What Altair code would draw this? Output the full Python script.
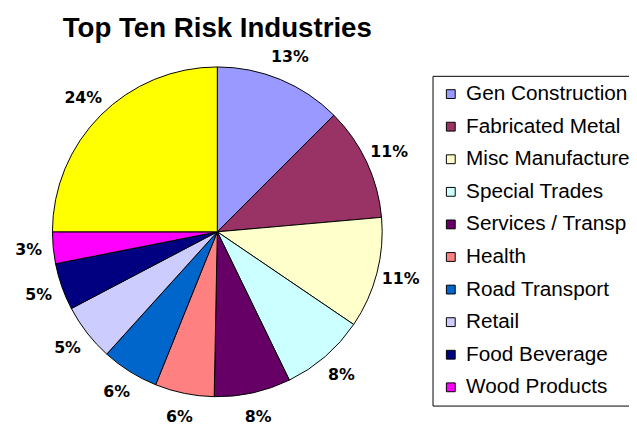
import altair as alt
import pandas as pd

industries = ["Gen Construction", "Fabricated Metal", "Misc Manufacture", "Special Trades",
              "Services / Transp", "Health", "Road Transport", "Retail", "Food Beverage",
              "Wood Products", "Other"]
shares = [12.5, 11.1, 10.9, 8.3, 7.5, 5.8, 5.6, 5.6, 4.6, 3.1, 25.0]
pct_labels = ["13%", "11%", "11%", "8%", "8%", "6%", "6%", "5%", "5%", "3%", "24%"]
colors = ["#9999FF", "#993366", "#FFFFCC", "#CCFFFF", "#660066", "#FF8080",
          "#0066CC", "#CCCCFF", "#000080", "#FF00FF", "#FFFF00"]
legend_names = industries[:10]

df = pd.DataFrame({
    "industry": industries,
    "share": shares,
    "label": pct_labels,
    "rank": list(range(len(industries))),
})

base = alt.Chart(df).encode(
    theta=alt.Theta("share:Q", stack=True),
    order=alt.Order("rank:Q"),
)

pie = base.mark_arc(outerRadius=167, stroke="black", strokeWidth=1).encode(
    color=alt.Color(
        "industry:N",
        scale=alt.Scale(domain=industries, range=colors),
        legend=alt.Legend(
            values=legend_names,
            orient="none",
            legendX=430,
            legendY=26,
            title=None,
            strokeColor="black",
            fillColor="white",
            padding=8,
            symbolType="square",
            symbolSize=80,
            symbolStrokeColor="black",
            symbolStrokeWidth=1,
            symbolOpacity=1,
            labelFont="Liberation Sans",
            labelFontSize=21,
            labelColor="black",
            labelLimit=500,
            labelOffset=5,
            rowPadding=11,
        ),
    )
)

text = base.mark_text(
    radius=192, font="DejaVu Sans", fontWeight="bold", fontSize=16, color="black"
).encode(text="label:N")

chart = alt.layer(pie, text).properties(
    width=424,
    height=368,
    autosize="none",
    padding={"left": 0, "top": 40, "right": 205, "bottom": 12},
    background="white",
    title=alt.TitleParams(
        "Top Ten Risk Industries",
        font="Liberation Sans",
        fontSize=28,
        fontWeight="bold",
        color="black",
        anchor="middle",
        frame="group",
        offset=6,
    ),
).configure_view(stroke=None)

chart.save("out.html", embed_options={"renderer": "svg", "actions": False})
